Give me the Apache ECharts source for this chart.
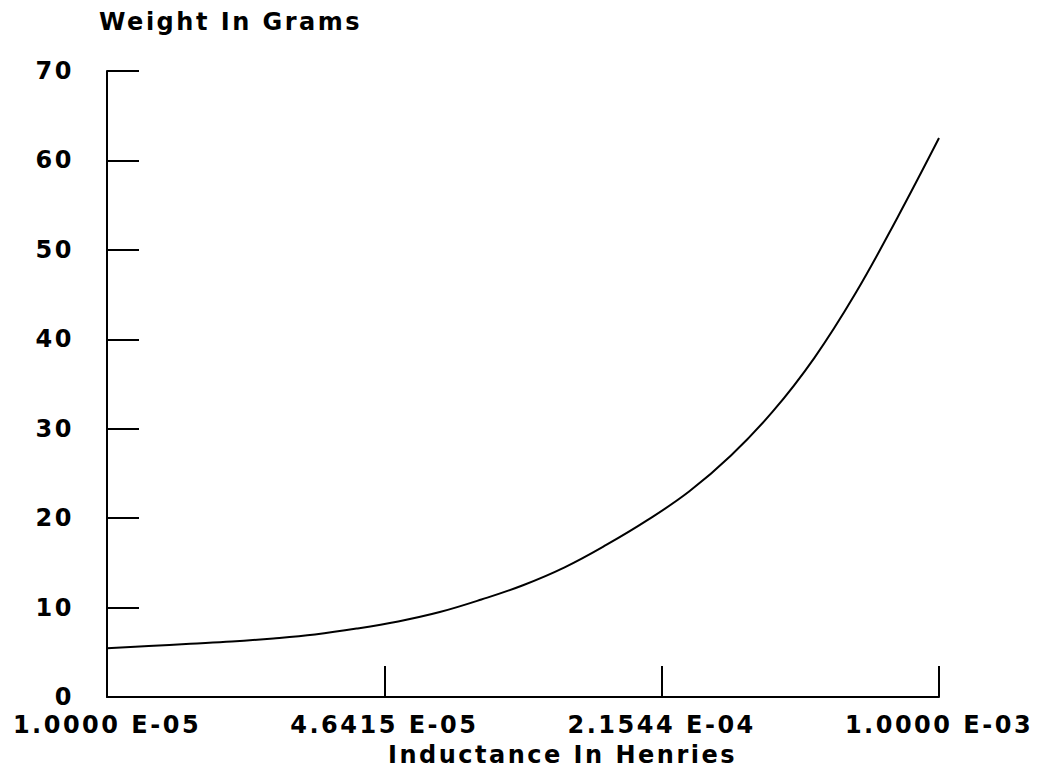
<!DOCTYPE html>
<html>
<head>
<meta charset="utf-8">
<title>Weight vs Inductance</title>
<script src="https://cdn.jsdelivr.net/npm/echarts@6/dist/echarts.min.js"></script>
<style>
  html, body { margin: 0; padding: 0; background: #ffffff; }
  #chart { width: 1045px; height: 778px; }
  /* wide plotter-style lettering */
  #chart svg text { letter-spacing: 2.5px; }
</style>
</head>
<body>
<div id="chart"></div>
<script>
// Inductance (H), one point every tenth of a decade, and coil weight (g)
const inductance = [
  1.000e-5, 1.259e-5, 1.585e-5, 1.995e-5, 2.512e-5, 3.162e-5, 3.981e-5,
  5.012e-5, 6.310e-5, 7.943e-5, 1.000e-4, 1.259e-4, 1.585e-4, 1.995e-4,
  2.512e-4, 3.162e-4, 3.981e-4, 5.012e-4, 6.310e-4, 7.943e-4, 1.000e-3
];
const weight = [
  5.45, 5.7, 5.95, 6.2, 6.55, 7.0, 7.65,
  8.45, 9.5, 10.9, 12.5, 14.5, 17.0, 19.8,
  23.0, 27.0, 31.9, 37.9, 45.2, 53.6, 62.5
];

// Labels for the inductance axis (even steps of one third of a decade)
const xTickLabels = ['1.0000 E-05', '4.6415 E-05', '2.1544 E-04', '1.0000 E-03'];
const xMin = 1.0e-5;
const xMax = 1.0e-3;

const yMin = 0;
const yMax = 70;
const yStep = 10;

const yTitle = 'Weight In Grams';
const xTitle = 'Inductance In Henries';

const FONT = 'DejaVu Sans';
const WEIGHT = 'bold';
const SIZE = 24;
const INK = '#000000';

const chart = echarts.init(document.getElementById('chart'), null, { renderer: 'svg' });

chart.setOption({
  backgroundColor: '#ffffff',
  animation: false,
  textStyle: { fontFamily: FONT, color: INK },
  title: [
    {
      text: yTitle,
      left: 99, top: 10, padding: 0,
      textStyle: { fontFamily: FONT, fontSize: SIZE, fontWeight: WEIGHT, color: INK }
    },
    {
      text: xTitle,
      left: 388, top: 743, padding: 0,
      textStyle: { fontFamily: FONT, fontSize: SIZE, fontWeight: WEIGHT, color: INK }
    }
  ],
  grid: {
    left: 107, right: 106, top: 71, bottom: 81,
    containLabel: false,
    outerBoundsMode: 'none'
  },
  xAxis: [
    {
      // data axis: logarithmic inductance scale
      type: 'log',
      logBase: 10,
      min: xMin,
      max: xMax,
      position: 'bottom',
      show: false,
      splitLine: { show: false }
    },
    {
      // tick/label axis at third-decade steps
      type: 'category',
      data: xTickLabels,
      boundaryGap: false,
      position: 'bottom',
      axisLine: { show: true, onZero: false, lineStyle: { color: INK, width: 2 } },
      axisTick: { show: true, inside: true, length: 31, lineStyle: { color: INK, width: 2 } },
      axisLabel: {
        show: true, margin: 16, interval: 0, lineHeight: 24,
        fontFamily: FONT, fontSize: SIZE, fontWeight: WEIGHT, color: INK
      },
      splitLine: { show: false }
    }
  ],
  yAxis: {
    type: 'value',
    min: yMin,
    max: yMax,
    interval: yStep,
    axisLine: { show: true, onZero: false, lineStyle: { color: INK, width: 2 } },
    axisTick: { show: true, inside: true, length: 32, lineStyle: { color: INK, width: 2 } },
    axisLabel: {
      margin: 33, lineHeight: 22,
      fontFamily: FONT, fontSize: SIZE, fontWeight: WEIGHT, color: INK
    },
    splitLine: { show: false }
  },
  series: [
    {
      type: 'line',
      xAxisIndex: 0,
      data: inductance.map((x, i) => [x, weight[i]]),
      smooth: 0.4,
      showSymbol: false,
      lineStyle: { color: INK, width: 2 },
      silent: true
    }
  ]
});
</script>
</body>
</html>
